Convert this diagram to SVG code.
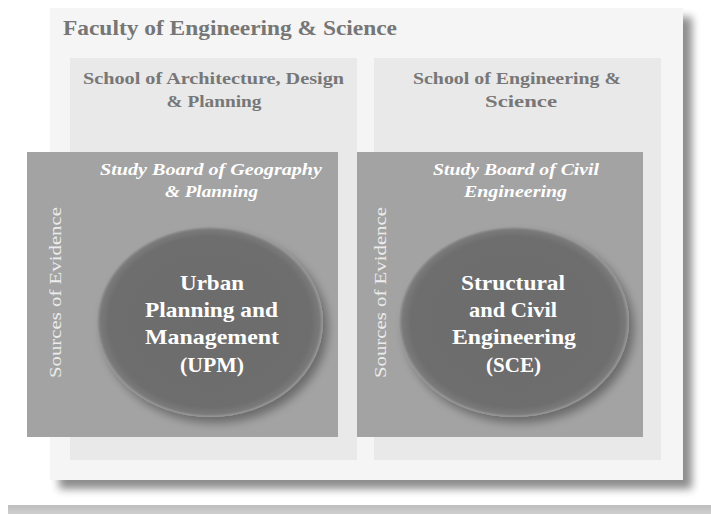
<svg xmlns="http://www.w3.org/2000/svg" width="711" height="514" viewBox="0 0 711 514">
<defs>
  <filter id="shadow" x="-10%" y="-10%" width="130%" height="130%">
    <feGaussianBlur in="SourceAlpha" stdDeviation="4"/>
    <feOffset dx="9" dy="9" result="b"/>
    <feComponentTransfer><feFuncA type="linear" slope="0.45"/></feComponentTransfer>
    <feMerge><feMergeNode/><feMergeNode in="SourceGraphic"/></feMerge>
  </filter>
  <filter id="eshadow" x="-20%" y="-20%" width="150%" height="150%">
    <feGaussianBlur in="SourceAlpha" stdDeviation="5"/>
    <feOffset dx="5" dy="6" result="b"/>
    <feComponentTransfer><feFuncA type="linear" slope="0.35"/></feComponentTransfer>
    <feMerge><feMergeNode/><feMergeNode in="SourceGraphic"/></feMerge>
  </filter>
  <radialGradient id="eg" cx="50%" cy="50%" r="50%">
    <stop offset="0" stop-color="#6c6c6c"/>
    <stop offset="0.9" stop-color="#6e6e6e"/>
    <stop offset="0.97" stop-color="#7a7a7a"/>
    <stop offset="1" stop-color="#9a9a9a"/>
  </radialGradient>
  <linearGradient id="band" x1="0" y1="0" x2="0" y2="1">
    <stop offset="0" stop-color="#bdbdbd"/>
    <stop offset="1" stop-color="#cfcfcf"/>
  </linearGradient>
  <style>
    .t { font-family: "Liberation Serif", "DejaVu Serif", serif; }
    .fac { font-size: 21px; font-weight: bold; fill: #767676; }
    .sch { font-size: 17.5px; font-weight: bold; fill: #777777; text-anchor: middle; }
    .sb { font-size: 17.5px; font-weight: bold; font-style: italic; fill: #ffffff; text-anchor: middle; }
    .src { font-size: 17.5px; fill: #ececec; text-anchor: middle; }
    .el { font-size: 21px; font-weight: bold; fill: #ffffff; text-anchor: middle; }
    .school { fill: #e9e9e9; }
    .board { fill: #a3a3a3; }
  </style>
</defs>
<rect width="711" height="514" fill="#ffffff"/>
<rect x="8" y="505" width="703" height="9" fill="url(#band)"/>
<g id="faculty">
  <rect x="50" y="8" width="633" height="472" fill="#f5f5f5" filter="url(#shadow)"/>
  <text class="t fac" x="63" y="35" textLength="334" lengthAdjust="spacingAndGlyphs">Faculty of Engineering &amp; Science</text>
</g>
<g id="school-adp">
  <rect class="school" x="70" y="58" width="287" height="402"/>
  <text class="t sch" x="213.5" y="84" textLength="261" lengthAdjust="spacingAndGlyphs">School of Architecture, Design</text>
  <text class="t sch" x="214" y="107" textLength="95" lengthAdjust="spacingAndGlyphs">&amp; Planning</text>
</g>
<g id="school-es">
  <rect class="school" x="374" y="58" width="287" height="402"/>
  <text class="t sch" x="517" y="84" textLength="208" lengthAdjust="spacingAndGlyphs">School of Engineering &amp;</text>
  <text class="t sch" x="521" y="107" textLength="72" lengthAdjust="spacingAndGlyphs">Science</text>
</g>
<g id="board-gp">
  <rect class="board" x="27" y="152" width="311" height="285"/>
  <text class="t sb" x="211" y="175" textLength="222" lengthAdjust="spacingAndGlyphs">Study Board of Geography</text>
  <text class="t sb" x="211.5" y="197" textLength="93" lengthAdjust="spacingAndGlyphs">&amp; Planning</text>
  <text class="t src" transform="translate(61,292.5) rotate(-90)" textLength="171" lengthAdjust="spacingAndGlyphs">Sources of Evidence</text>
</g>
<g id="board-ce">
  <rect class="board" x="357" y="152" width="286" height="285"/>
  <text class="t sb" x="516" y="175" textLength="166" lengthAdjust="spacingAndGlyphs">Study Board of Civil</text>
  <text class="t sb" x="515.5" y="197" textLength="103" lengthAdjust="spacingAndGlyphs">Engineering</text>
  <text class="t src" transform="translate(386,292.5) rotate(-90)" textLength="171" lengthAdjust="spacingAndGlyphs">Sources of Evidence</text>
</g>
<g id="upm">
  <ellipse cx="210" cy="322" rx="113" ry="95" fill="url(#eg)" filter="url(#eshadow)"/>
  <text class="t el" x="212" y="290" textLength="64" lengthAdjust="spacingAndGlyphs">Urban</text>
  <text class="t el" x="211.5" y="317" textLength="133" lengthAdjust="spacingAndGlyphs">Planning and</text>
  <text class="t el" x="212" y="344" textLength="134" lengthAdjust="spacingAndGlyphs">Management</text>
  <text class="t el" x="212" y="372" textLength="64" lengthAdjust="spacingAndGlyphs">(UPM)</text>
</g>
<g id="sce">
  <ellipse cx="514" cy="322" rx="115" ry="95" fill="url(#eg)" filter="url(#eshadow)"/>
  <text class="t el" x="513" y="290" textLength="104" lengthAdjust="spacingAndGlyphs">Structural</text>
  <text class="t el" x="513" y="317" textLength="88" lengthAdjust="spacingAndGlyphs">and Civil</text>
  <text class="t el" x="514" y="344" textLength="124" lengthAdjust="spacingAndGlyphs">Engineering</text>
  <text class="t el" x="513.5" y="372" textLength="55" lengthAdjust="spacingAndGlyphs">(SCE)</text>
</g>
<g id="connectors"></g>
</svg>
